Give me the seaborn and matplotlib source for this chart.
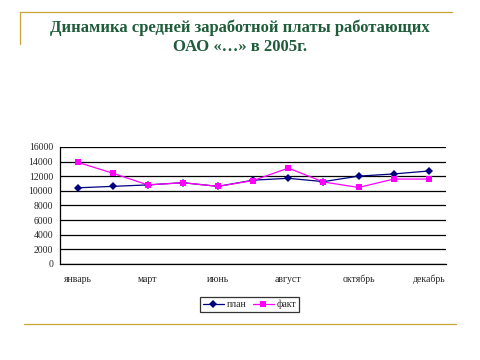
import numpy as np
import pandas as pd
import seaborn as sns
import matplotlib
matplotlib.use('Agg')
import matplotlib.pyplot as plt
from matplotlib.lines import Line2D

# месяцы (на оси подписан каждый второй)
months = ['январь', 'февраль', 'март', 'апрель', 'июнь', 'июль',
          'август', 'сентябрь', 'октябрь', 'ноябрь', 'декабрь']
plan = [10400, 10600, 10800, 11100, 10600, 11450, 11700, 11250, 12000, 12300, 12700]
fact = [13900, 12400, 10800, 11100, 10600, 11400, 13100, 11200, 10450, 11600, 11600]
y_ticks = list(range(0, 16001, 2000))

df = pd.DataFrame({
    'x': list(range(len(months))) * 2,
    'value': plan + fact,
    'series': ['план'] * len(months) + ['факт'] * len(months),
})

sns.set_style('white')
plt.rcParams['font.family'] = ['Liberation Serif', 'DejaVu Serif']

fig = plt.figure(figsize=(4.8, 3.6), dpi=100)
ax = fig.add_axes([0.125, 0.267, 0.805, 0.325])

colors = {'план': '#000080', 'факт': '#ff00ff'}
markers = {'план': 'D', 'факт': 's'}
sns.lineplot(data=df, x='x', y='value', hue='series', style='series',
             palette=colors, markers=markers, dashes=False, markersize=4,
             linewidth=0.9, markeredgewidth=0, legend=False, ax=ax)

ax.set_xlim(-0.5, len(months) - 0.5)
ax.set_ylim(0, 16000)
ax.set_yticks(y_ticks)
ax.set_yticklabels([str(v) for v in y_ticks], fontsize=7)
ax.yaxis.grid(True, color='black', linewidth=0.9)
ax.set_axisbelow(True)

# деления между категориями, подписи по центру
ax.set_xticks(np.arange(-0.5, len(months), 1))
ax.set_xticklabels([])
ax.set_xticks(range(0, len(months), 2), minor=True)
ax.set_xticklabels(months[::2], minor=True, fontsize=7)
ax.tick_params(axis='x', which='major', length=4, width=0.8, direction='out', color='black')
ax.tick_params(axis='x', which='minor', length=0, pad=8)
ax.tick_params(axis='y', length=3, width=0.8, direction='out', color='black', pad=2)
ax.set_xlabel('')
ax.set_ylabel('')
for s in ['top', 'right']:
    ax.spines[s].set_visible(False)
for s in ['left', 'bottom']:
    ax.spines[s].set_color('black')
    ax.spines[s].set_linewidth(0.9)

handles = [Line2D([], [], color=colors[k], marker=markers[k], markersize=4,
                  markeredgewidth=0, linewidth=0.9) for k in ['план', 'факт']]
leg = fig.legend(handles, ['план', 'факт'], loc='center', bbox_to_anchor=(0.52, 0.155),
                 ncol=2, fontsize=7, frameon=True, fancybox=False, handlelength=2.2,
                 handletextpad=0.3, columnspacing=0.6, borderpad=0.3)
leg.get_frame().set_edgecolor('black')
leg.get_frame().set_linewidth(0.9)

# заголовок и декоративные линии
fig.text(0.5, 0.897, 'Динамика средней заработной платы работающих\nОАО «…» в 2005г.',
         ha='center', va='center', fontsize=12, fontweight='bold', color='#1e5c3a',
         linespacing=1.3)
gold = '#c8a434'
fig.add_artist(Line2D([0.042, 0.942], [0.967, 0.967], color=gold, linewidth=0.9))
fig.add_artist(Line2D([0.042, 0.042], [0.967, 0.878], color=gold, linewidth=0.9))
fig.add_artist(Line2D([0.05, 0.95], [0.1, 0.1], color=gold, linewidth=0.9))

fig.savefig('out.png', dpi=100)
